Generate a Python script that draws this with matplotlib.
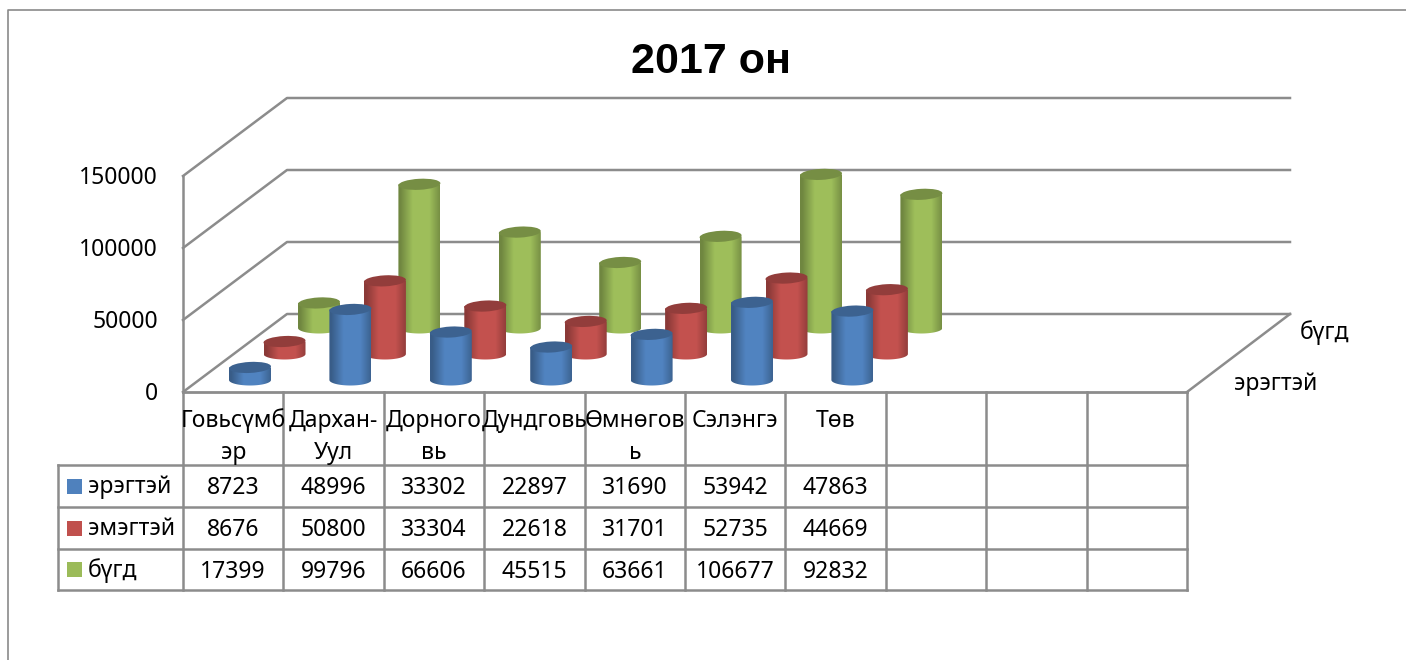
import matplotlib
matplotlib.use('Agg')
import matplotlib.pyplot as plt
import numpy as np
from matplotlib.colors import to_rgb
from matplotlib.patches import Ellipse, PathPatch, Rectangle
from matplotlib.path import Path

plt.rcParams['font.family'] = ['Noto Sans', 'DejaVu Sans']

# data from the chart table
categories = ['Говьсүмб\nэр', 'Дархан-\nУул', 'Дорного\nвь', 'Дундговь',
              'Өмнөгов\nь', 'Сэлэнгэ', 'Төв', '', '', '']
series_names = ['эрэгтэй', 'эмэгтэй', 'бүгд']
eregtei = [8723, 48996, 33302, 22897, 31690, 53942, 47863]
emegtei = [8676, 50800, 33304, 22618, 31701, 52735, 44669]
bugd = [17399, 99796, 66606, 45515, 63661, 106677, 92832]
y_ticks = [0, 50000, 100000, 150000]
colors = ['#4F81BD', '#C0504D', '#9BBB59']
grid_col = '#8C8C8C'

fig = plt.figure(figsize=(14.06, 6.6), dpi=100)
ax = fig.add_axes([0, 0, 1, 1])

# layout of the fake 3d box, in pixels
px_per_val = 72 / 50000
left, right, floor = 183, 1187, 392
depth_x, depth_y = 104, 78
col_w = (right - left) / 10
fs = 16.5


def place(cat, depth, value):
    x = 250 + col_w * cat + 34.5 * depth
    y = 380 - 26 * depth - value * px_per_val
    return x, y


def cylinder(cat, depth, value, color, z):
    xc, ytop = place(cat, depth, value)
    _, ybot = place(cat, depth, 0)
    w, h = 42, 11
    rgb = np.array(to_rgb(color))
    # body = rectangle plus lower half of an ellipse
    t = np.linspace(np.pi, 0, 40)
    vx = [xc - w / 2] + list(xc + w / 2 * np.cos(t)) + [xc + w / 2, xc - w / 2]
    vy = [ytop] + list(ybot + h / 2 * np.sin(t)) + [ytop, ytop]
    body = PathPatch(Path(np.column_stack([vx, vy])), fc='none', ec='none', zorder=z)
    ax.add_patch(body)
    u = np.linspace(0, 1, 60)
    shade = 0.72 + 0.3 * np.clip((0.5 - np.abs(u - 0.55)) / 0.3, 0, 1)
    img = np.clip(shade[None, :, None] * rgb[None, None, :], 0, 1)
    im = ax.imshow(img, extent=[xc - w / 2, xc + w / 2, ybot + h, ytop], aspect='auto',
                   interpolation='bilinear', zorder=z)
    im.set_clip_path(body)
    ax.add_patch(Ellipse((xc, ytop), w, h, angle=-3, fc=rgb * 0.76, ec='none', zorder=z + 0.1))


# outer chart frame
ax.plot([8, 8, 1406], [660, 10, 10], color='#8A8A8A', lw=1.2)

# walls and floor
for v in y_ticks:
    yb = floor - depth_y - v * px_per_val
    yf = floor - v * px_per_val
    ax.plot([left, left + depth_x, right + depth_x - 1], [yf, yb, yb], color=grid_col, lw=1.8)
    ax.text(158, yf + 2, str(v), ha='right', va='center', fontsize=fs)
ax.plot([left, left], [floor - y_ticks[-1] * px_per_val, floor], color=grid_col, lw=1.8)
ax.plot([right, right + depth_x - 1], [floor, floor - depth_y], color=grid_col, lw=1.8)

# cylinders, back row first
for d, vals in reversed(list(enumerate([eregtei, emegtei, bugd]))):
    for i, v in enumerate(vals):
        cylinder(i, d, v, colors[d], 10 - d + i * 0.01)

# series names on the depth axis
ax.text(1300, 333, series_names[2], va='center', fontsize=fs)
ax.text(1234, 384, series_names[0], va='center', fontsize=fs)

# data table
rows = [465, 507, 549, 590]
ax.plot([left, right], [floor, floor], color=grid_col, lw=2)
for y in rows:
    ax.plot([58, right], [y, y], color=grid_col, lw=1.8)
ax.plot([58, 58], [rows[0], rows[-1]], color=grid_col, lw=1.8)
for i in range(11):
    x = left + i * col_w
    ax.plot([x, x], [floor, rows[-1]], color=grid_col, lw=1.8)

for i, name in enumerate(categories):
    xc = left + (i + 0.5) * col_w
    for j, line in enumerate(name.split('\n')):
        ax.text(xc, 421 + 32 * j, line, ha='center', va='center', fontsize=fs)

for r, (name, vals) in enumerate(zip(series_names, [eregtei, emegtei, bugd])):
    yc = (rows[r] + rows[r + 1]) / 2
    ax.add_patch(Rectangle((67, yc - 7.5), 15, 15, fc=colors[r], ec='none'))
    ax.text(88, yc + 1, name, va='center', fontsize=fs)
    for i, v in enumerate(vals):
        ax.text(left + (i + 0.5) * col_w, yc + 2, str(v), ha='center', va='center', fontsize=fs)

ax.text(711, 62, '2017 он', ha='center', va='center', fontsize=31, fontweight='bold',
        family=['Liberation Sans', 'DejaVu Sans'])

ax.set_xlim(0, 1406)
ax.set_ylim(660, 0)
ax.axis('off')
fig.savefig('out.png', dpi=100)
